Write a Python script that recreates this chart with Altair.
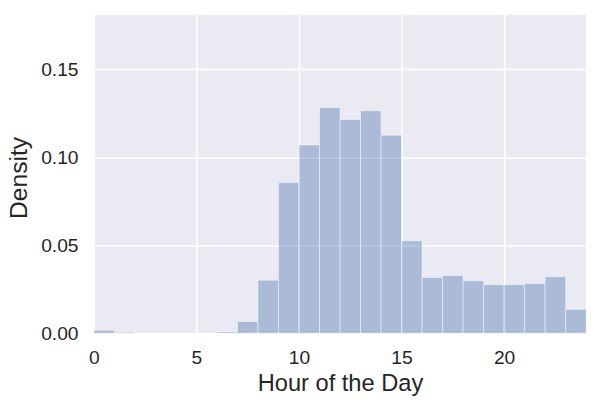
import altair as alt
import pandas as pd

# Histogram of hour of day (density), bins of width 1 hour
bin_start = list(range(24))
density = [0.0017, 0.0006, 0.0, 0.0, 0.0, 0.0, 0.0007, 0.0067, 0.0302, 0.0856,
           0.1069, 0.1282, 0.1215, 0.1264, 0.1125, 0.0526, 0.0317, 0.0328,
           0.0298, 0.0276, 0.0276, 0.0283, 0.0321, 0.0136]
x_ticks = [0, 5, 10, 15, 20]
y_ticks = [0.0, 0.05, 0.10, 0.15]

df = pd.DataFrame({
    "start": bin_start,
    "end": [b + 1 for b in bin_start],
    "density": density,
})

font = "Liberation Sans"
text_color = "#262626"

chart = alt.Chart(df).mark_bar(
    fill="#4C72B0", fillOpacity=0.4,
    stroke="white", strokeOpacity=0.45, strokeWidth=1,
).encode(
    x=alt.X("start:Q", scale=alt.Scale(domain=[0, 24], nice=False, zero=False),
            axis=alt.Axis(values=x_ticks, title="Hour of the Day", format="d",
                          labelBaseline="alphabetic", labelPadding=31,
                          labelFlush=False,
                          titleBaseline="alphabetic", titleY=58,
                          titleFontSize=24)),
    x2="end:Q",
    y=alt.Y("density:Q", scale=alt.Scale(domain=[0, 0.181], nice=False),
            axis=alt.Axis(values=y_ticks, title="Density", format=".2f",
                          labelPadding=16, labelFlush=False, titleAngle=-90,
                          titleBaseline="alphabetic", titleAlign="center",
                          titleX=-68, titleY=165, titleFontSize=25)),
    y2=alt.datum(0),
).properties(
    width=499, height=323,
    background="white",
    autosize=alt.AutoSizeParams(type="none"),
    padding={"left": 87, "top": 4, "right": 12, "bottom": 74},
).configure_view(
    fill="#EAEAF2", stroke=None,
).configure_axis(
    domain=False, ticks=False, tickSize=0,
    grid=True, gridColor="white", gridWidth=1.6, gridOpacity=1,
    labelFont=font, titleFont=font, labelFontSize=19.5,
    labelColor=text_color, titleColor=text_color,
    titleFontWeight="normal",
)

chart.save("out.html", embed_options={"renderer": "svg", "actions": False})
